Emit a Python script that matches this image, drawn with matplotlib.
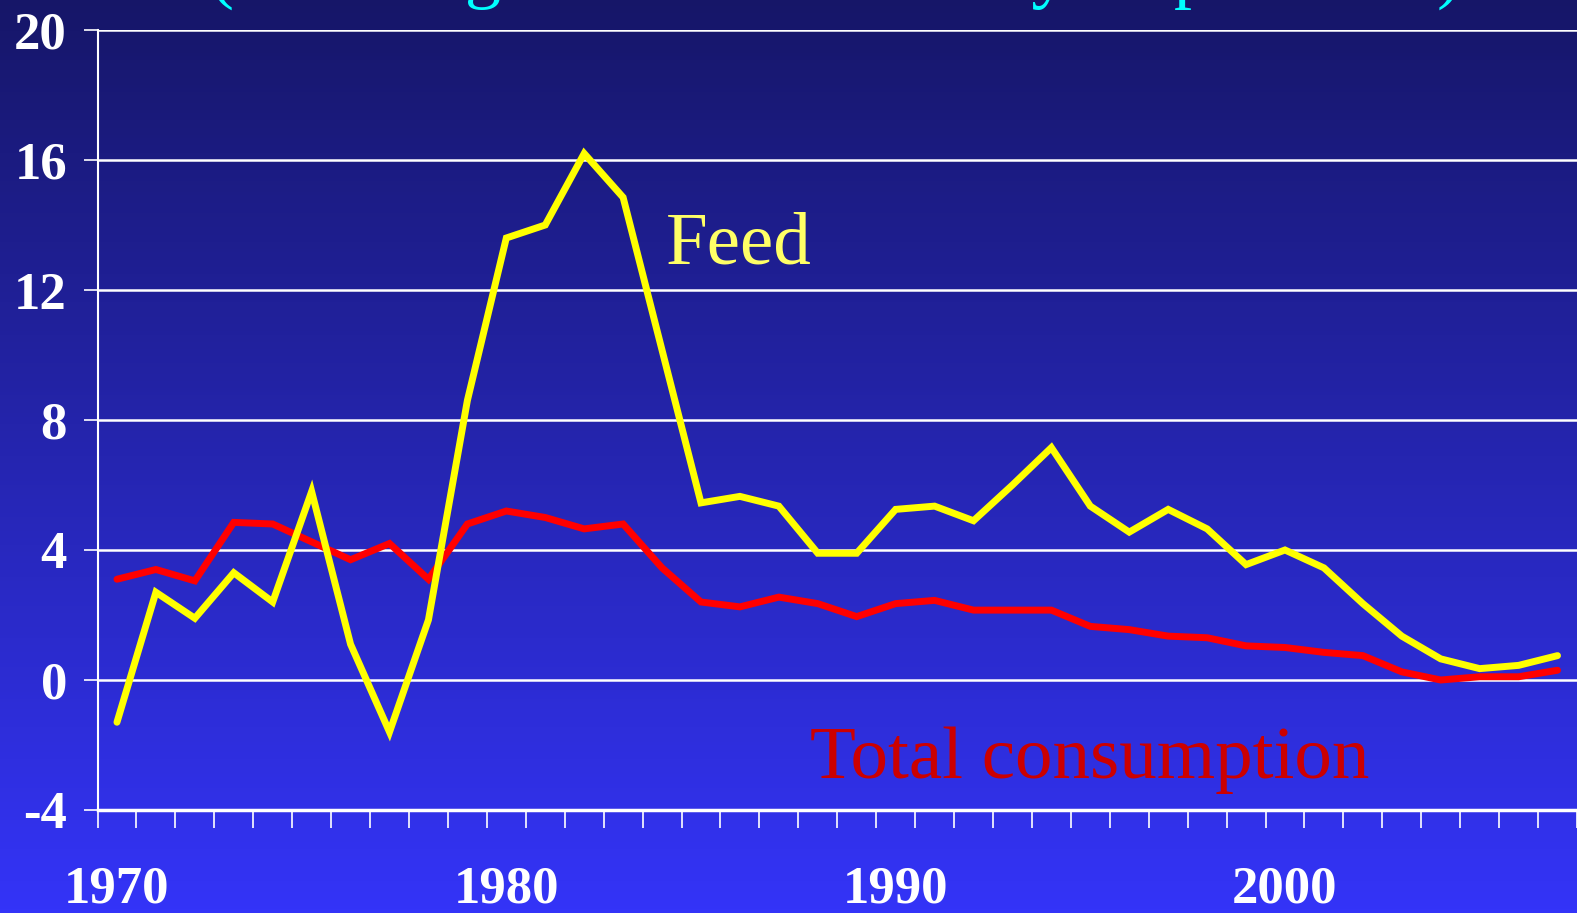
import matplotlib
matplotlib.use("Agg")
import matplotlib.pyplot as plt
import numpy as np

# growth rates (%)
years = list(range(1970, 2008))
feed = [-1.3, 2.7, 1.9, 3.3, 2.4, 5.8, 1.1, -1.6, 1.85, 8.6,
        13.6, 14.0, 16.2, 14.85, 10.15, 5.45, 5.65, 5.35, 3.9, 3.9,
        5.25, 5.35, 4.9, 6.0, 7.15, 5.35, 4.55, 5.25, 4.65, 3.55,
        4.0, 3.45, 2.35, 1.35, 0.65, 0.35, 0.45, 0.75]
total = [3.1, 3.4, 3.05, 4.85, 4.8, 4.25, 3.7, 4.2, 3.1, 4.8,
         5.2, 5.0, 4.65, 4.8, 3.45, 2.4, 2.25, 2.55, 2.35, 1.95,
         2.35, 2.45, 2.15, 2.15, 2.15, 1.65, 1.55, 1.35, 1.3, 1.05,
         1.0, 0.85, 0.75, 0.25, 0.0, 0.1, 0.1, 0.3]
yticks = [-4, 0, 4, 8, 12, 16, 20]
xlabels = [1970, 1980, 1990, 2000]

W, H = 1577, 913
fig = plt.figure(figsize=(W / 100, H / 100), dpi=100)

# blue gradient background
bg = fig.add_axes([0, 0, 1, 1], zorder=0)
top = np.array([22, 22, 104]) / 255
bot = np.array([52, 52, 248]) / 255
t = np.linspace(0, 1, 256)[:, None]
grad = (top * (1 - t) + bot * t)[:, None, :]
bg.imshow(grad, aspect="auto", extent=[0, 1, 0, 1])
bg.axis("off")

ax = fig.add_axes([97.5 / W, 1 - 810 / H, 1 - 97.5 / W, 780 / H], zorder=1)
ax.set_facecolor("none")

ax.plot(years, total, color="#ff0000", lw=5, solid_capstyle="round", solid_joinstyle="miter", zorder=3)
ax.plot(years, feed, color="#ffff00", lw=5, solid_capstyle="round", solid_joinstyle="miter", zorder=4)

ax.set_xlim(1969.5, 1969.5 + (W - 97.5) / 39)
ax.set_ylim(-4, 20)
ax.set_yticks(yticks)
ax.set_xticks(xlabels)
ax.set_xticks(np.arange(1969.5, 2008, 1), minor=True)
ax.yaxis.grid(True, color="white", lw=1.8)
ax.set_axisbelow(True)

for s in ["top", "right"]:
    ax.spines[s].set_visible(False)
ax.spines["left"].set_color("white")
ax.spines["left"].set_linewidth(1.5)
ax.spines["bottom"].set_color("white")
ax.spines["bottom"].set_linewidth(2.5)

tf = dict(family="Liberation Serif", weight="bold", size=38, color="white")
ax.tick_params(axis="y", direction="out", length=10, width=1.2, color="white", pad=12)
ax.tick_params(axis="x", which="major", length=0, pad=40)
ax.tick_params(axis="x", which="minor", direction="out", length=13, width=1.2, color="white")
ax.set_yticklabels([str(v) for v in yticks], fontdict=tf)
ax.set_xticklabels([str(v) for v in xlabels], fontdict=tf)

ax.text(1984.1, 12.83, "Feed", family="Liberation Serif", size=54, color="#ffff66", zorder=5)
ax.text(1987.8, -3.0, "Total consumption", family="Liberation Serif", size=54,
        color="#cc0000", zorder=5)

# title is cut off at the top of the slide, only descenders show
fig.text(210 / W, 1 + 5 / H, "(Annual growth rates: three-year period %)",
         family="Liberation Serif", size=52, color="#00ffff", va="baseline", ha="left")

fig.savefig("out.png", dpi=100)
